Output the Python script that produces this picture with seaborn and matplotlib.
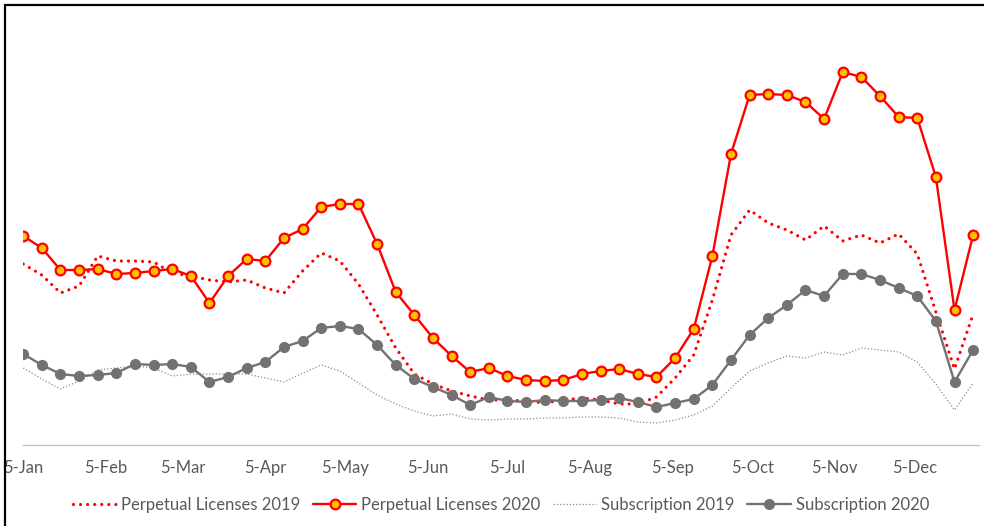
import matplotlib
matplotlib.use("Agg")
import matplotlib.pyplot as plt
from matplotlib.patches import Rectangle
import pandas as pd
import seaborn as sns

# Weekly sales, first week starting 5 Jan
week_start = "2020-01-05"
n_weeks = 52
weeks = pd.date_range(week_start, periods=n_weeks, freq="7D")

perpetual_2019 = [181, 170, 152, 159, 189, 184, 184, 183, 172, 169, 165, 163, 165,
                  157, 152, 174, 192, 184, 161, 130, 97, 71, 61, 54, 49, 45,
                  45, 44, 42, 45, 47, 45, 41, 41, 48, 67, 90, 145, 210, 235,
                  222, 215, 205, 219, 204, 210, 202, 211, 191, 133, 76, 131]
perpetual_2020 = [209, 197, 175, 175, 176, 171, 172, 174, 176, 169, 142, 169, 186,
                  184, 207, 216, 238, 241, 241, 201, 153, 130, 107, 89, 73, 77,
                  69, 65, 64, 65, 71, 74, 76, 71, 68, 87, 116, 189, 291, 350,
                  351, 350, 343, 326, 373, 368, 349, 328, 327, 268, 135, 210]
subscription_2019 = [77, 66, 56, 64, 75, 77, 79, 77, 69, 71, 71, 71, 71,
                     67, 63, 72, 80, 74, 62, 50, 41, 34, 29, 31, 26, 25,
                     26, 26, 27, 27, 28, 28, 27, 23, 22, 25, 30, 39, 57, 74,
                     82, 89, 87, 93, 90, 97, 95, 93, 83, 61, 35, 62]
subscription_2020 = [91, 80, 71, 69, 70, 72, 81, 80, 81, 78, 63, 68, 77,
                     83, 98, 104, 117, 119, 116, 100, 80, 66, 58, 50, 40, 48,
                     44, 43, 45, 44, 44, 45, 47, 43, 38, 42, 46, 60, 85, 110,
                     127, 140, 155, 149, 171, 171, 165, 157, 149, 124, 63, 95]

tick_labels = ["5-Jan", "5-Feb", "5-Mar", "5-Apr", "5-May", "5-Jun",
               "5-Jul", "5-Aug", "5-Sep", "5-Oct", "5-Nov", "5-Dec"]
tick_dates = pd.to_datetime(["2020-" + t for t in tick_labels], format="%Y-%d-%b")

sns.set_style("white")
plt.rcParams["font.family"] = ["Lato", "DejaVu Sans"]

RED = "#FF0000"
GOLD = "#FFC000"
GREY = "#767171"
LIGHT_GREY = "#8C8C8C"
TEXT = "#595959"

fig = plt.figure(figsize=(9.84, 5.26), dpi=100)
ax = fig.add_axes([0.0236, 0.154, 0.9713, 0.8175])

sns.lineplot(x=weeks, y=perpetual_2019, ax=ax, color=RED, linewidth=2.3,
             linestyle=(0, (0.01, 2.2)), dash_capstyle="round",
             label="Perpetual Licenses 2019")
sns.lineplot(x=weeks, y=perpetual_2020, ax=ax, color=RED, linewidth=1.7,
             marker="o", markersize=7, markerfacecolor=GOLD,
             markeredgecolor=RED, markeredgewidth=1.6,
             label="Perpetual Licenses 2020")
sns.lineplot(x=weeks, y=subscription_2019, ax=ax, color=LIGHT_GREY, linewidth=0.9,
             linestyle=(0, (1, 1.6)), label="Subscription 2019")
sns.lineplot(x=weeks, y=subscription_2020, ax=ax, color=GREY, linewidth=1.7,
             marker="o", markersize=7, markerfacecolor=GREY,
             markeredgecolor=GREY, markeredgewidth=1.0,
             label="Subscription 2020")

ax.set_xlim(weeks[0], weeks[0] + pd.Timedelta(days=359.2))
ax.set_ylim(0, 430)
ax.set_xlabel("")
ax.set_ylabel("")
ax.set_yticks([])
ax.set_xticks(tick_dates)
ax.set_xticklabels(tick_labels)
ax.tick_params(axis="x", length=4, width=1, color="#BFBFBF", pad=6.5,
               labelsize=12, labelcolor=TEXT)
for side in ("top", "left", "right"):
    ax.spines[side].set_visible(False)
ax.spines["bottom"].set_color("#BFBFBF")
ax.spines["bottom"].set_linewidth(1.0)

ax.legend(loc="center", bbox_to_anchor=(0.509, 0.040),
          bbox_transform=fig.transFigure, ncol=4, frameon=False,
          fontsize=12, labelcolor=TEXT, handlelength=2.6,
          handletextpad=0.3, columnspacing=0.75)

# outer frame
fig.add_artist(Rectangle((5 / 984, -0.1), 1.2, 1 - 5 / 526 + 0.1,
                         transform=fig.transFigure, fill=False,
                         edgecolor="black", linewidth=1.6))

fig.savefig("out.png", dpi=100)
